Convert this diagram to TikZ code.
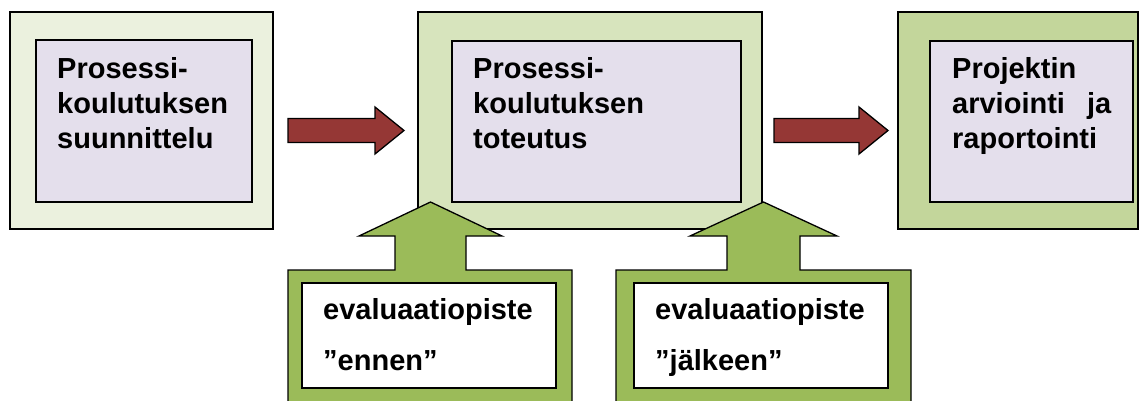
\documentclass[tikz,border=0pt]{standalone}
\usepackage{fontspec}
\setmainfont{Liberation Sans}
\usetikzlibrary{calc}
\definecolor{paleA}{HTML}{EBF1DE}
\definecolor{paleB}{HTML}{D7E4BD}
\definecolor{paleC}{HTML}{C3D69B}
\definecolor{lavender}{HTML}{E4DFEC}
\definecolor{brick}{HTML}{953735}
\definecolor{olive}{HTML}{9BBB59}
\begin{document}
\begin{tikzpicture}[x=1pt,y=-1pt,
  frame/.style={draw=black,line width=1.3pt,inner sep=0pt,outer sep=0pt},
  outerbox/.style={frame,minimum height=217pt},
  innerbox/.style={frame,fill=lavender},
  label/.style={inner sep=0pt,anchor=base west,align=left,
    font=\bfseries\fontsize{29}{35}\selectfont},
  evallabel/.style={inner sep=0pt,anchor=base west,align=left,
    font=\bfseries\fontsize{29}{51}\selectfont},
  redarrow/.style={draw=black,line width=1.3pt,fill=brick,line join=miter},
  greenarrow/.style={draw=black,line width=1.3pt,fill=olive,line join=miter},
  whitebox/.style={frame,fill=white}]
\useasboundingbox (0,0) rectangle (1139,401);
\clip (0,0) rectangle (1139,401);

% process boxes
\node[outerbox,fill=paleA,minimum width=263pt] (o1) at (141.5,120.5) {};
\node[innerbox,minimum width=216pt,minimum height=162pt] (i1) at (144,121) {};
\node[outerbox,fill=paleB,minimum width=344pt] (o2) at (590,120.5) {};
\node[innerbox,minimum width=289pt,minimum height=161pt] (i2) at (596.5,121.5) {};
\node[outerbox,fill=paleC,minimum width=240pt] (o3) at (1018,120.5) {};
\node[innerbox,minimum width=203pt,minimum height=161pt] (i3) at (1031.5,121.5) {};

% labels are anchored at the baseline of their last line
\node[label] (t1) at (57,148) {Prosessi-\\koulutuksen\\suunnittelu};
\node[label] (t2) at (473,148) {Prosessi-\\koulutuksen\\toteutus};
\node[label] (t3) at (952,148) {Projektin\\\makebox[159pt][s]{arviointi ja}\\raportointi};

% block arrows between the process boxes
\coordinate (r1s) at (288,130.5);
\coordinate (r1e) at (404,130.5);
\coordinate (r2s) at (774,130.5);
\coordinate (r2e) at (888,130.5);
\foreach \s/\e in {r1s/r1e, r2s/r2e}{
  \draw[redarrow] ($(\s)+(0,-12)$) -- ($(\e)+(-29,-12)$) -- ($(\e)+(-29,-23.5)$)
    -- (\e) -- ($(\e)+(-29,23.5)$) -- ($(\e)+(-29,12)$) -- ($(\s)+(0,12)$) -- cycle;
}

% evaluation points pushing up into the middle box
\coordinate (g1) at (430.5,202);
\coordinate (g2) at (763.5,202);
\draw[greenarrow] (288,420) -- (288,270) -- ($(g1)+(-35.5,68)$) -- ($(g1)+(-35.5,34)$)
  -- ($(g1)+(-71.5,34)$) -- (g1) -- ($(g1)+(71.5,34)$) -- ($(g1)+(35.5,34)$)
  -- ($(g1)+(35.5,68)$) -- (572,270) -- (572,420) -- cycle;
\draw[greenarrow] (616,420) -- (616,270) -- ($(g2)+(-36.5,68)$) -- ($(g2)+(-36.5,34)$)
  -- ($(g2)+(-73.5,34)$) -- (g2) -- ($(g2)+(73.5,34)$) -- ($(g2)+(36.5,34)$)
  -- ($(g2)+(36.5,68)$) -- (911,270) -- (911,420) -- cycle;

\node[whitebox,minimum width=254pt,minimum height=105pt] (e1) at (429,335.5) {};
\node[whitebox,minimum width=254pt,minimum height=105pt] (e2) at (761,335.5) {};
\node[evallabel] (l1) at (323,370) {evaluaatiopiste\\”ennen”};
\node[evallabel] (l2) at (655,370) {evaluaatiopiste\\”jälkeen”};
\end{tikzpicture}
\end{document}
